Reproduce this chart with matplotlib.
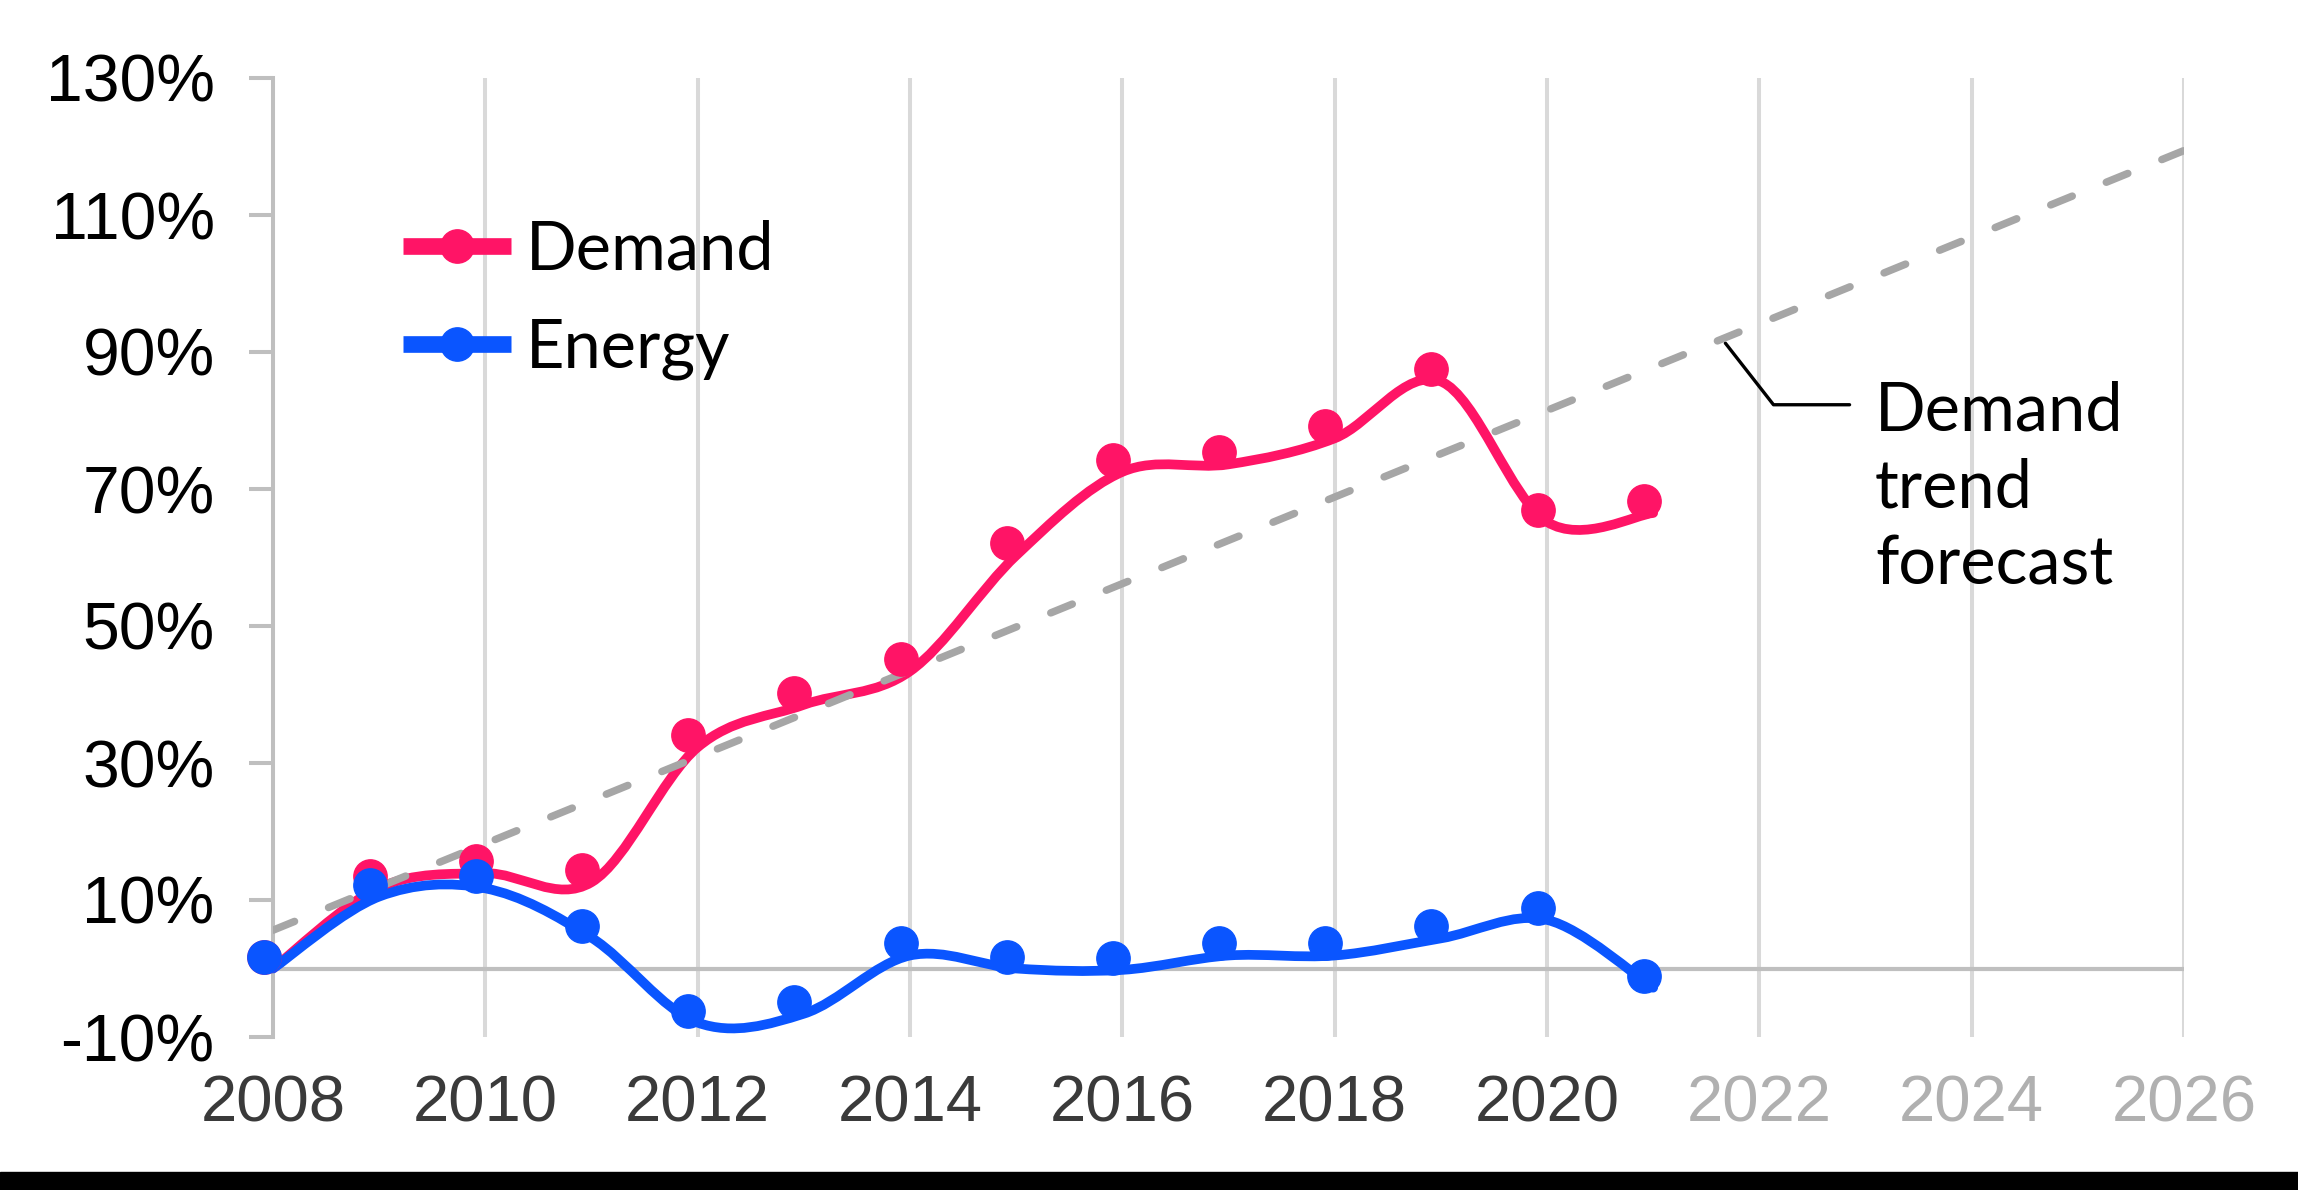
import numpy as np
import matplotlib
matplotlib.use("Agg")
import matplotlib.pyplot as plt
import matplotlib.transforms as mtransforms
from matplotlib.path import Path
from matplotlib.patches import PathPatch, Rectangle
from matplotlib.lines import Line2D
from matplotlib.ticker import FuncFormatter

# --- data (percent change vs 2008) ---
years = np.arange(2008, 2022)
demand = [0.0, 11.8, 13.9, 12.6, 32.3, 38.5, 43.4, 60.3, 72.5, 73.6, 77.4, 85.7, 65.2, 66.5]
energy = [0.0, 10.5, 11.7, 4.5, -7.9, -6.6, 1.9, 0.0, -0.2, 1.9, 1.9, 4.4, 7.1, -2.8]
x_ticks = np.arange(2008, 2027, 2)
y_ticks = np.arange(-10, 131, 20)
series_names = ["Demand", "Energy"]
note_text = "Demand\ntrend\nforecast"

DEMAND_C = "#ff1466"
ENERGY_C = "#0a55ff"
TREND_C = "#a6a6a6"
GRID_C = "#d9d9d9"
AXIS_C = "#bfbfbf"


def smooth_path(x, y):
    # excel-like smoothed line: cubic bezier segments (catmull-rom control points)
    pts = np.column_stack([x, y]).astype(float)
    ext = np.vstack([pts[0], pts, pts[-1]])
    verts = [pts[0]]
    codes = [Path.MOVETO]
    for i in range(len(pts) - 1):
        p0, p1, p2, p3 = ext[i], ext[i + 1], ext[i + 2], ext[i + 3]
        verts += [p1 + (p2 - p0) / 6, p2 - (p3 - p1) / 6, p2]
        codes += [Path.CURVE4] * 3
    return Path(verts, codes)


W, H = 2298, 1190
fig = plt.figure(figsize=(W / 100, H / 100), dpi=100)
left, right, top, bottom = 273, 2184, 78, 1037
ax = fig.add_axes([left / W, 1 - bottom / H, (right - left) / W, (bottom - top) / H])

ax.set_xlim(2008, 2026)
ax.set_ylim(-10, 130)

for s in ["top", "right", "bottom"]:
    ax.spines[s].set_visible(False)
ax.spines["left"].set_color(AXIS_C)
ax.spines["left"].set_linewidth(2.9)

ax.set_xticks(x_ticks)
ax.set_yticks(y_ticks)
ax.yaxis.set_major_formatter(FuncFormatter(lambda v, p: f"{v:.0f}%"))
ax.tick_params(axis="y", length=17, width=2.9, color=AXIS_C, pad=25,
               labelsize=47.5, labelcolor="black")
ax.tick_params(axis="x", length=0, pad=27, labelsize=47)
for lab in ax.get_yticklabels() + ax.get_xticklabels():
    lab.set_family("Liberation Sans")
for lab, yr in zip(ax.get_xticklabels(), x_ticks):
    lab.set_color("#3a3a3a" if yr <= years[-1] else "#b0b0b0")

ax.grid(axis="x", color=GRID_C, lw=2.9)
ax.grid(axis="y", visible=False)
ax.set_axisbelow(True)
ax.axhline(0, color=AXIS_C, lw=3, zorder=1)

# smoothed lines
for vals, col, z in [(demand, DEMAND_C, 2), (energy, ENERGY_C, 3)]:
    ax.add_patch(PathPatch(smooth_path(years, vals), fill=False, edgecolor=col,
                           lw=7, capstyle="round", joinstyle="round",
                           zorder=z, clip_on=False))

# linear trend of demand, extended to the end of the axis
fit = np.polyfit(years, demand, 1)
ax.plot(x_ticks[[0, -1]], np.polyval(fit, x_ticks[[0, -1]]), color=TREND_C,
        lw=5.4, ls=(0, (3.1, 4.9)), dash_capstyle="round", zorder=4)

# markers sit slightly up-left of the line, as in the source
shift = mtransforms.ScaledTranslation(-0.095, 0.12, fig.dpi_scale_trans)
for vals, col, z in [(demand, DEMAND_C, 5), (energy, ENERGY_C, 6)]:
    ax.plot(years, vals, ls="none", marker="o", ms=24, color=col,
            transform=ax.transData + shift, zorder=z, clip_on=False)

handles = [Line2D([], [], color=DEMAND_C, lw=12, marker="o", ms=24, solid_capstyle="butt"),
           Line2D([], [], color=ENERGY_C, lw=12, marker="o", ms=24, solid_capstyle="butt")]
ax.legend(handles, series_names, loc="upper left",
          bbox_to_anchor=(403 / W, 1 - 219 / H), bbox_transform=fig.transFigure,
          frameon=False, prop={"family": "Lato", "size": 48},
          handlelength=1.62, handletextpad=0.22, borderpad=0,
          borderaxespad=0, labelspacing=0.55)

x_note = 2021.68
ax.annotate("", xy=(x_note, np.polyval(fit, x_note) - 0.8), xytext=(2022.85, 82.3),
            arrowprops=dict(arrowstyle="-", color="black", lw=2.4, shrinkA=0, shrinkB=0,
                            connectionstyle="angle,angleA=0,angleB=128,rad=0"))
ax.text(2023.09, 85.8, note_text, family="Lato", fontsize=48, color="black",
        va="top", ha="left", linespacing=1.3)

fig.add_artist(Rectangle((0, 0), 1, 18 / H, transform=fig.transFigure,
                         color="black", zorder=10))

fig.savefig("out.png", dpi=100, facecolor="white")
